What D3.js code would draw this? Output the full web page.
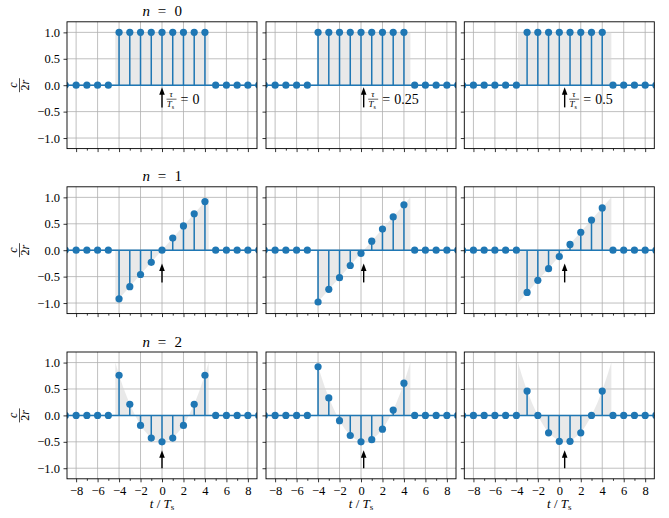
<!DOCTYPE html>
<html>
<head>
<meta charset="utf-8">
<script src="https://cdn.jsdelivr.net/npm/d3@7"></script>
<style>
body { margin: 0; background: #fff; }
svg { display: block; }
.tick text { font-family: 'Liberation Serif', 'DejaVu Serif', 'Times New Roman', serif; font-size: 12.5px; fill: #000; }
.tick line { stroke: #000; stroke-width: 0.8; }
</style>
</head>
<body>
<div id="chart"></div>
<script>
// sample instants (t / Ts)
var tSamples = [-10,-9,-8,-7,-6,-5,-4,-3,-2,-1,0,1,2,3,4,5,6,7,8,9,10];
var tInner = [-4,-3,-2,-1,0,1,2,3,4];
var tauValues = [0, 0.25, 0.5];
var tauLabels = ["0", "0.25", "0.5"];
var orderLabels = ["0", "1", "2"];
var xTicks = [-8,-6,-4,-2,0,2,4,6,8];
var xMinorTicks = [-7,-5,-3,-1,1,3,5,7];
var yTicks = [-1,-0.5,0,0.5,1];

// stem values at t = -4..4, every other sample is 0
var n0_tau0   = [1,1,1,1,1,1,1,1,1];
var n0_tau025 = [1,1,1,1,1,1,1,1,1];
var n0_tau05  = [0,1,1,1,1,1,1,1,1];
var n1_tau0   = [-0.92,-0.69,-0.46,-0.23,0,0.23,0.46,0.69,0.92];
var n1_tau025 = [-0.98,-0.74,-0.52,-0.29,-0.06,0.17,0.40,0.63,0.86];
var n1_tau05  = [0,-0.80,-0.57,-0.35,-0.12,0.11,0.34,0.57,0.80];
var n2_tau0   = [0.76,0.21,-0.19,-0.43,-0.50,-0.43,-0.19,0.21,0.76];
var n2_tau025 = [0.92,0.33,-0.10,-0.38,-0.50,-0.46,-0.26,0.10,0.61];
var n2_tau05  = [0,0.46,0,-0.33,-0.49,-0.49,-0.33,0,0.46];

// grey continuous shape (x measured from tau)
var shadeU_n0 = [-4.35, 4.35];
var shadeV_n0 = [1, 1];
var shadeU_n1 = [-4.35, 4.35];
var shadeV_n1 = [-1, 1];
var shadeU_n2 = [-4.35,-3.5,-2.5,-1.5,-0.75,0,0.75,1.5,2.5,3.5,4.35];
var shadeV_n2 = [1.0,0.47,0,-0.32,-0.45,-0.5,-0.45,-0.32,0,0.47,1.0];

// arrow tail / tip heights per row
var arrowTail = [-0.42, -0.61, -1.0];
var arrowTip  = [-0.04, -0.25, -0.66];

var stems = [
    [n0_tau0, n0_tau025, n0_tau05],
    [n1_tau0, n1_tau025, n1_tau05],
    [n2_tau0, n2_tau025, n2_tau05]
];
var shadesU = [shadeU_n0, shadeU_n1, shadeU_n2];
var shadesV = [shadeV_n0, shadeV_n1, shadeV_n2];

var width = 669, height = 518;
var colLeft = [67, 266, 464.3];
var rowTop = [21.8, 186.8, 352];
var panelW = 190, panelH = 126.8;
var blue = "#1f77b4";
var serif = "'Liberation Serif', 'DejaVu Serif', 'Times New Roman', serif";

var svg = d3.select("#chart").append("svg")
    .attr("width", width)
    .attr("height", height);

var x = d3.scaleLinear().domain([-8.85, 8.85]).range([0, panelW]);
var y = d3.scaleLinear().domain([-1.2, 1.2]).range([panelH, 0]);

function valueAt(vals, t) {
    var i = tInner.indexOf(t);
    return i < 0 ? 0 : vals[i];
}

var orders = [0, 1, 2];
orders.forEach(function(r) {
    tauValues.forEach(function(tau, c) {
        var g = svg.append("g")
            .attr("transform", "translate(" + colLeft[c] + "," + rowTop[r] + ")");

        var clipId = "clip" + r + c;
        g.append("clipPath").attr("id", clipId)
            .append("rect").attr("width", panelW).attr("height", panelH);

        // grid
        g.append("g").selectAll("line").data(xTicks).enter().append("line")
            .attr("x1", function(d) { return x(d); })
            .attr("x2", function(d) { return x(d); })
            .attr("y1", 0).attr("y2", panelH)
            .style("stroke", "#b0b0b0").style("stroke-width", 0.8);
        g.append("g").selectAll("line").data(yTicks).enter().append("line")
            .attr("y1", function(d) { return y(d); })
            .attr("y2", function(d) { return y(d); })
            .attr("x1", 0).attr("x2", panelW)
            .style("stroke", "#b0b0b0").style("stroke-width", 0.8);

        var inner = g.append("g").attr("clip-path", "url(#" + clipId + ")");

        // grey shade
        var pts = shadesU[r].map(function(u, i) { return [u + tau, shadesV[r][i]]; });
        var area = d3.area()
            .x(function(d) { return x(d[0]); })
            .y0(y(0))
            .y1(function(d) { return y(d[1]); })
            .curve(r == 2 ? d3.curveCatmullRom : d3.curveLinear);
        inner.append("path")
            .datum(pts)
            .attr("d", area)
            .style("fill", "#d3d3d3")
            .style("fill-opacity", 0.5);

        // stems
        inner.append("g").selectAll("line").data(tSamples).enter().append("line")
            .attr("x1", function(d) { return x(d); })
            .attr("x2", function(d) { return x(d); })
            .attr("y1", y(0))
            .attr("y2", function(d) { return y(valueAt(stems[r][c], d)); })
            .style("stroke", blue).style("stroke-width", 1.5);

        // baseline
        inner.append("line")
            .attr("x1", x(tSamples[0])).attr("x2", x(tSamples[tSamples.length - 1]))
            .attr("y1", y(0)).attr("y2", y(0))
            .style("stroke", blue).style("stroke-width", 1.5);

        // markers
        inner.append("g").selectAll("circle").data(tSamples).enter().append("circle")
            .attr("cx", function(d) { return x(d); })
            .attr("cy", function(d) { return y(valueAt(stems[r][c], d)); })
            .attr("r", 3.6)
            .style("fill", blue);

        // arrow at tau
        var ax = x(tau);
        g.append("line")
            .attr("x1", ax).attr("x2", ax)
            .attr("y1", y(arrowTail[r])).attr("y2", y(arrowTip[r]) + 5)
            .style("stroke", "#000").style("stroke-width", 1.4);
        g.append("path")
            .attr("d", "M" + ax + "," + y(arrowTip[r]) +
                "L" + (ax - 2.8) + "," + (y(arrowTip[r]) + 7.5) +
                "L" + (ax + 2.8) + "," + (y(arrowTip[r]) + 7.5) + "Z")
            .style("fill", "#000");

        // tau label (first row only)
        if (r == 0) {
            var x0 = ax + 4.5, yc = y(-0.265);
            g.append("text").attr("x", x0 + 4.7).attr("y", yc - 1.8)
                .attr("text-anchor", "middle")
                .style("font-family", serif).style("font-style", "italic").style("font-size", "9px")
                .text("τ");
            g.append("line").attr("x1", x0).attr("x2", x0 + 10)
                .attr("y1", yc).attr("y2", yc)
                .style("stroke", "#000").style("stroke-width", 0.6);
            var ts = g.append("text").attr("x", x0 + 0.3).attr("y", yc + 7.8)
                .style("font-family", serif).style("font-size", "9px");
            ts.append("tspan").style("font-style", "italic").text("T");
            ts.append("tspan").attr("dy", 1.6).style("font-size", "6px").text("s");
            g.append("text").attr("x", x0 + 14).attr("y", yc + 4.6)
                .style("font-family", serif).style("font-size", "14px")
                .text("=");
            g.append("text").attr("x", x0 + 26).attr("y", yc + 4.6)
                .style("font-family", serif).style("font-size", "14px")
                .text(tauLabels[c]);
        }

        // frame
        g.append("rect")
            .attr("width", panelW).attr("height", panelH)
            .style("fill", "none").style("stroke", "#000").style("stroke-width", 0.9);

        // axes
        var yAxis = d3.axisLeft(y).tickValues(yTicks).tickSize(3.5).tickPadding(3.5)
            .tickFormat(function(d) { return c == 0 ? d3.format(".1f")(d).replace("-", "\u2212") : ""; });
        g.append("g").call(yAxis).call(function(a) { a.select(".domain").remove(); });

        var xAxis = d3.axisBottom(x).tickValues(xTicks).tickSize(3.5).tickPadding(3.5)
            .tickFormat(function(d) { return r == 2 ? String(d).replace("-", "\u2212") : ""; });
        g.append("g").attr("transform", "translate(0," + panelH + ")")
            .call(xAxis).call(function(a) { a.select(".domain").remove(); });

        var xMinor = d3.axisBottom(x).tickValues(xMinorTicks).tickSize(2).tickFormat("");
        g.append("g").attr("transform", "translate(0," + panelH + ")")
            .call(xMinor).call(function(a) { a.select(".domain").remove(); });

        // title on first column
        if (c == 0) {
            var cx = panelW / 2, ty = -5.5;
            g.append("text").attr("x", cx - 15.7).attr("y", ty).attr("text-anchor", "middle")
                .style("font-family", serif).style("font-style", "italic").style("font-size", "15px")
                .text("n");
            g.append("text").attr("x", cx).attr("y", ty).attr("text-anchor", "middle")
                .style("font-family", serif).style("font-size", "15px")
                .text("=");
            g.append("text").attr("x", cx + 16.2).attr("y", ty).attr("text-anchor", "middle")
                .style("font-family", serif).style("font-size", "15px")
                .text(orderLabels[r]);

            // y label c / 2r
            var yl = g.append("g")
                .attr("transform", "translate(" + (-47.5) + "," + y(0) + ") rotate(-90)");
            yl.append("text").attr("x", 0).attr("y", -2.2)
                .attr("text-anchor", "middle")
                .style("font-family", serif).style("font-style", "italic").style("font-size", "12px")
                .text("c");
            yl.append("line").attr("x1", -7).attr("x2", 7).attr("y1", 0).attr("y2", 0)
                .style("stroke", "#000").style("stroke-width", 0.7);
            var den = yl.append("text").attr("x", 0).attr("y", 9)
                .attr("text-anchor", "middle")
                .style("font-family", serif).style("font-size", "12px");
            den.append("tspan").text("2");
            den.append("tspan").style("font-style", "italic").text("r");
        }

        // x label on last row
        if (r == 2) {
            var xl = g.append("text")
                .attr("x", panelW / 2).attr("y", panelH + 29)
                .attr("text-anchor", "middle")
                .style("font-family", serif).style("font-size", "13px");
            xl.append("tspan").style("font-style", "italic").text("t");
            xl.append("tspan").text(" / ");
            xl.append("tspan").style("font-style", "italic").text("T");
            xl.append("tspan").attr("dy", 2).style("font-size", "9px").text("s");
        }
    });
});
</script>
</body>
</html>
